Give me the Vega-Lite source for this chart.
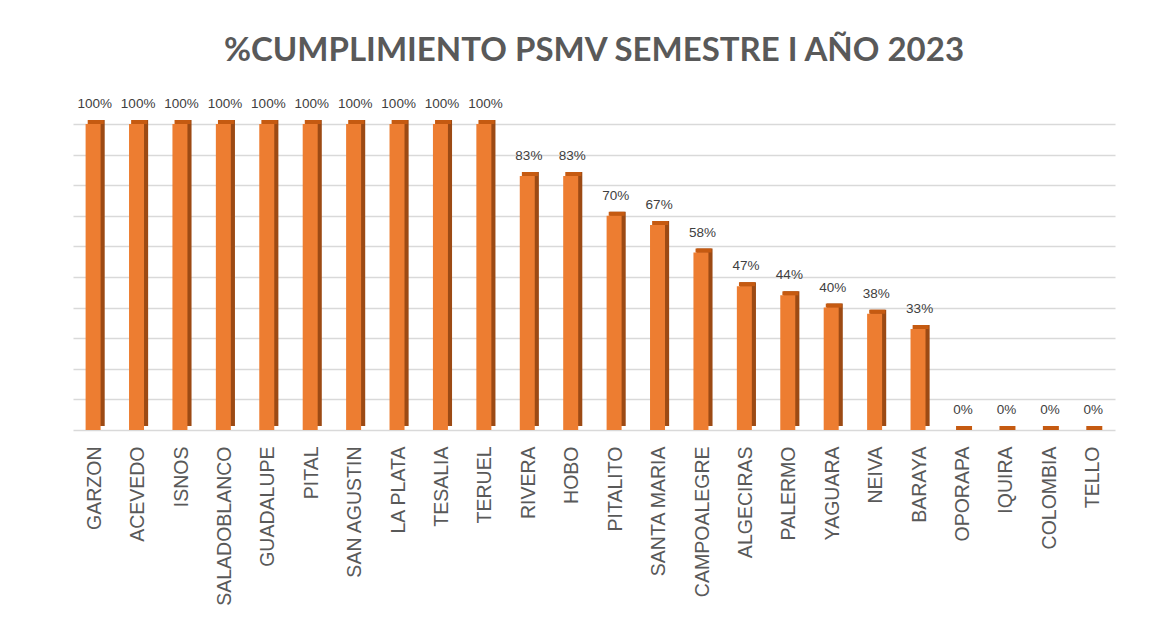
{
  "$schema": "https://vega.github.io/schema/vega-lite/v6.json",
  "width": 1042,
  "height": 306,
  "autosize": "none",
  "padding": {"left": 73, "top": 124, "right": 57, "bottom": 197},
  "background": "white",
  "config": {"view": {"stroke": null}},
  "title": {
    "text": "%CUMPLIMIENTO PSMV SEMESTRE I AÑO 2023",
    "font": "Lato",
    "fontSize": 33,
    "fontWeight": "bold",
    "color": "#595959",
    "offset": 29,
    "anchor": "middle"
  },
  "data": {
    "values": [
      {"municipio": "GARZON", "pct": 1.0},
      {"municipio": "ACEVEDO", "pct": 1.0},
      {"municipio": "ISNOS", "pct": 1.0},
      {"municipio": "SALADOBLANCO", "pct": 1.0},
      {"municipio": "GUADALUPE", "pct": 1.0},
      {"municipio": "PITAL", "pct": 1.0},
      {"municipio": "SAN AGUSTIN", "pct": 1.0},
      {"municipio": "LA PLATA", "pct": 1.0},
      {"municipio": "TESALIA", "pct": 1.0},
      {"municipio": "TERUEL", "pct": 1.0},
      {"municipio": "RIVERA", "pct": 0.83},
      {"municipio": "HOBO", "pct": 0.83},
      {"municipio": "PITALITO", "pct": 0.70},
      {"municipio": "SANTA MARIA", "pct": 0.67},
      {"municipio": "CAMPOALEGRE", "pct": 0.58},
      {"municipio": "ALGECIRAS", "pct": 0.47},
      {"municipio": "PALERMO", "pct": 0.44},
      {"municipio": "YAGUARA", "pct": 0.40},
      {"municipio": "NEIVA", "pct": 0.38},
      {"municipio": "BARAYA", "pct": 0.33},
      {"municipio": "OPORAPA", "pct": 0.0},
      {"municipio": "IQUIRA", "pct": 0.0},
      {"municipio": "COLOMBIA", "pct": 0.0},
      {"municipio": "TELLO", "pct": 0.0}
    ]
  },
  "encoding": {
    "x": {
      "field": "municipio",
      "type": "nominal",
      "sort": null,
      "scale": {"paddingInner": 0.55, "paddingOuter": 0.275},
      "axis": {
        "title": null,
        "domain": false,
        "ticks": false,
        "labelAngle": 270,
        "labelAlign": "right",
        "labelBaseline": "middle",
        "labelFont": "Liberation Sans",
        "labelFontSize": 19.5,
        "labelColor": "#595959",
        "labelPadding": 16,
        "labelLimit": 0,
        "labelOverlap": false
      }
    },
    "y": {
      "field": "pct",
      "type": "quantitative",
      "scale": {"domain": [0, 1], "nice": false},
      "axis": {
        "title": null,
        "labels": false,
        "ticks": false,
        "domain": false,
        "grid": true,
        "gridColor": "#D9D9D9",
        "gridWidth": 1.5,
        "values": [0, 0.1, 0.2, 0.3, 0.4, 0.5, 0.6, 0.7, 0.8, 0.9, 1.0]
      }
    }
  },
  "layer": [
    {
      "mark": {"type": "bar", "color": "#9C4A14", "opacity": 1, "width": 16, "xOffset": 2, "yOffset": -4}
    },
    {
      "mark": {"type": "tick", "color": "#C55A11", "opacity": 1, "size": 16, "thickness": 4, "xOffset": 1, "yOffset": -2}
    },
    {
      "mark": {"type": "bar", "color": "#ED7D31", "opacity": 1, "width": 15, "xOffset": -1.6}
    },
    {
      "mark": {"type": "text", "baseline": "bottom", "dy": -13, "font": "Liberation Sans", "fontSize": 13.5, "color": "#404040"},
      "encoding": {"text": {"field": "pct", "type": "quantitative", "format": ".0%"}}
    }
  ]
}
